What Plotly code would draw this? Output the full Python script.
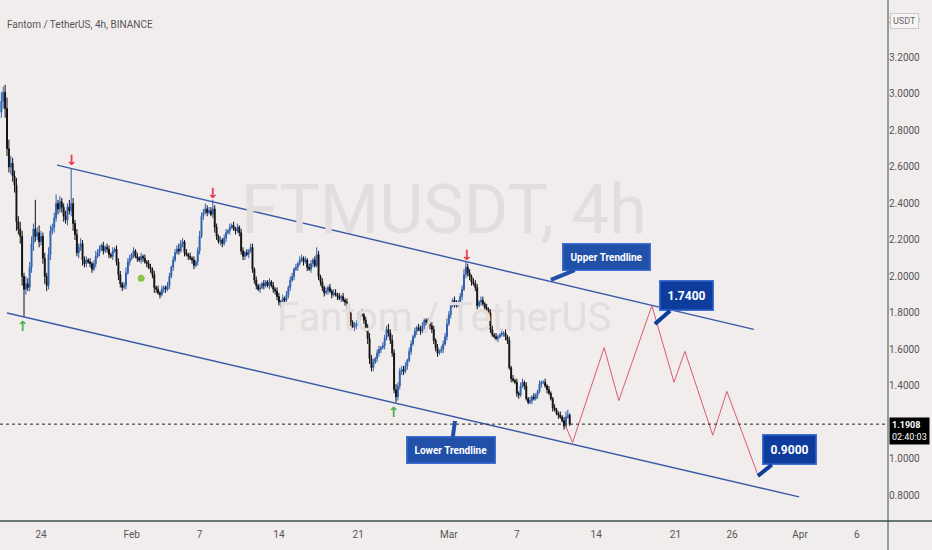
import pandas as pd
import plotly.graph_objects as go

# 4h closes, FTM/USDT, starting 2022-01-20 12:00
first_open = 2.90
closes = [
    2.96, 3.01, 2.92,
    2.70, 2.60, 2.62, 2.55, 2.50, 2.30,
    2.26, 2.22, 2.00, 1.93, 1.96, 1.94,
    2.05, 2.18, 2.26, 2.22, 2.24, 2.19,
    2.22, 2.10, 2.00, 1.95, 2.12, 2.25,
    2.27, 2.32, 2.40, 2.37, 2.41, 2.38,
    2.33, 2.31, 2.38, 2.36, 2.40, 2.29,
    2.23, 2.13, 2.16, 2.18, 2.09, 2.07,
    2.09, 2.08, 2.07, 2.04, 2.07, 2.11,
    2.13, 2.15, 2.17, 2.14, 2.16, 2.15,
    2.12, 2.11, 2.14, 2.15, 2.08, 2.01,
    1.96, 1.94, 1.95, 2.02, 2.08, 2.10,
    2.12, 2.14, 2.11, 2.10, 2.09, 2.11,
    2.10, 2.08, 2.07, 2.05, 2.04, 2.01,
    1.94, 1.93, 1.91, 1.90, 1.93, 1.94,
    1.93, 1.95, 2.00, 2.05, 2.09, 2.13,
    2.15, 2.14, 2.18, 2.19, 2.13, 2.12,
    2.11, 2.10, 2.09, 2.06, 2.08, 2.14,
    2.22, 2.33, 2.35, 2.37, 2.35, 2.36,
    2.34, 2.37, 2.27, 2.22, 2.19, 2.20,
    2.18, 2.21, 2.24, 2.25, 2.27, 2.28,
    2.26, 2.25, 2.27, 2.24, 2.14, 2.11,
    2.13, 2.12, 2.14, 2.16, 2.04, 1.98,
    1.95, 1.93, 1.94, 1.96, 1.95, 1.97,
    1.95, 1.97, 1.95, 1.93, 1.92, 1.89,
    1.86, 1.85, 1.88, 1.87, 1.90, 1.94,
    1.98, 2.00, 2.04, 2.05, 2.07, 2.09,
    2.10, 2.08, 2.09, 2.05, 2.04, 2.07,
    2.09, 2.06, 2.12, 2.00, 1.97, 1.94,
    1.91, 1.92, 1.94, 1.92, 1.90, 1.91,
    1.90, 1.89, 1.88, 1.89, 1.87, 1.86,
    1.84, 1.80, 1.75, 1.72, 1.73, 1.74,
    1.78, 1.80, 1.79, 1.76, 1.72, 1.66,
    1.55, 1.50, 1.53, 1.55, 1.58, 1.60,
    1.61, 1.62, 1.66, 1.71, 1.69, 1.65,
    1.58, 1.38, 1.34, 1.40, 1.48, 1.49,
    1.48, 1.51, 1.54, 1.59, 1.63, 1.67,
    1.70, 1.72, 1.71, 1.70, 1.73, 1.76,
    1.75, 1.74, 1.73, 1.71, 1.65, 1.61,
    1.58, 1.59, 1.60, 1.63, 1.67, 1.74,
    1.79, 1.84, 1.87, 1.85, 1.84, 1.86,
    1.89, 1.93, 2.01, 2.05, 2.02, 2.00,
    1.97, 1.96, 1.94, 1.84, 1.86, 1.87,
    1.85, 1.83, 1.82, 1.80, 1.71, 1.68,
    1.67, 1.66, 1.67, 1.68, 1.69, 1.69,
    1.67, 1.65, 1.50, 1.44, 1.43, 1.42,
    1.36, 1.35, 1.40, 1.42, 1.40, 1.33,
    1.31, 1.32, 1.34, 1.33, 1.35, 1.37,
    1.41, 1.42, 1.42, 1.40, 1.38, 1.36,
    1.33, 1.28, 1.27, 1.25, 1.24, 1.23,
    1.21, 1.18, 1.23, 1.24, 1.1908,
]
# wick lengths above / below the body, in cents
upper_wicks = [
    5, 3, 4,
    6, 5, 4, 3, 3, 4,
    3, 4, 3, 2, 4, 3,
    3, 4, 3, 16, 3, 4,
    3, 2, 3, 2, 4, 3,
    2, 3, 5, 2, 3, 2,
    2, 3, 2, 4, 19, 3,
    2, 3, 2, 3, 2, 2,
    2, 1, 2, 1, 2, 3,
    2, 2, 1, 2, 1, 2,
    2, 1, 2, 1, 2, 2,
    2, 1, 2, 3, 2, 2,
    1, 2, 1, 2, 1, 2,
    1, 2, 1, 2, 2, 1,
    2, 1, 2, 1, 2, 1,
    1, 2, 2, 1, 2, 2,
    2, 3, 2, 2, 1, 2,
    1, 2, 1, 2, 1, 2,
    3, 2, 2, 3, 2, 2,
    2, 5, 2, 2, 1, 2,
    1, 2, 2, 1, 2, 1,
    2, 1, 2, 1, 2, 2,
    1, 2, 1, 2, 2, 1,
    2, 1, 2, 1, 2, 1,
    1, 2, 1, 2, 1, 2,
    2, 1, 2, 1, 2, 1,
    2, 2, 1, 2, 1, 2,
    2, 1, 2, 1, 2, 2,
    1, 2, 4, 2, 1, 2,
    1, 2, 1, 2, 1, 2,
    2, 1, 2, 1, 2, 1,
    2, 1, 2, 1, 2, 2,
    2, 1, 2, 1, 2, 2,
    3, 2, 2, 1, 2, 2,
    1, 2, 2, 2, 3, 2,
    3, 2, 3, 2, 2, 2,
    2, 2, 1, 2, 2, 1,
    2, 1, 2, 2, 2, 1,
    1, 2, 1, 2, 2, 1,
    2, 1, 2, 2, 2, 3,
    2, 2, 1, 2, 2, 1,
    2, 2, 3, 3, 2, 2,
    1, 2, 2, 2, 1, 2,
    2, 1, 2, 1, 2, 2,
    1, 2, 1, 1, 2, 1,
    2, 1, 2, 1, 2, 1,
    2, 1, 2, 2, 1, 2,
    1, 2, 1, 2, 1, 1,
    2, 1, 1, 2, 1, 2,
    1, 1, 2, 1, 1, 2,
    1, 2, 3, 3, 1,
]
lower_wicks = [
    3, 4, 5,
    4, 3, 4, 3, 4, 5,
    3, 4, 5, 15, 3, 2,
    2, 3, 4, 3, 2, 3,
    2, 3, 4, 3, 2, 3,
    2, 3, 2, 3, 2, 3,
    3, 2, 3, 2, 3, 4,
    3, 2, 3, 2, 3, 2,
    2, 1, 2, 2, 1, 2,
    1, 2, 1, 2, 1, 2,
    2, 1, 2, 1, 2, 3,
    2, 2, 1, 2, 1, 2,
    1, 2, 1, 2, 1, 2,
    2, 1, 2, 1, 2, 2,
    3, 2, 1, 2, 1, 2,
    2, 1, 2, 1, 2, 1,
    1, 2, 1, 2, 2, 1,
    2, 1, 2, 2, 1, 2,
    2, 1, 2, 1, 2, 1,
    1, 2, 3, 2, 1, 2,
    2, 1, 2, 1, 2, 1,
    1, 2, 1, 2, 2, 2,
    2, 1, 2, 1, 2, 2,
    2, 1, 2, 1, 2, 1,
    1, 2, 1, 2, 2, 2,
    2, 2, 1, 2, 1, 2,
    2, 1, 2, 1, 2, 1,
    1, 2, 1, 2, 1, 2,
    2, 1, 1, 2, 2, 2,
    2, 1, 2, 1, 2, 1,
    1, 2, 1, 2, 1, 2,
    2, 2, 2, 1, 2, 2,
    1, 2, 1, 2, 2, 3,
    3, 2, 2, 1, 2, 2,
    2, 1, 2, 1, 2, 2,
    2, 2, 3, 2, 2, 2,
    2, 1, 2, 1, 2, 1,
    1, 2, 1, 2, 1, 2,
    2, 1, 2, 2, 2, 2,
    2, 1, 1, 2, 1, 2,
    1, 2, 1, 2, 1, 1,
    1, 2, 1, 2, 2, 2,
    2, 1, 2, 2, 1, 2,
    1, 2, 1, 2, 2, 1,
    1, 1, 2, 1, 1, 2,
    2, 2, 1, 2, 1, 1,
    2, 2, 1, 1, 2, 1,
    1, 1, 2, 1, 1, 2,
    1, 2, 1, 1, 2, 1,
    1, 2, 1, 1, 2, 1,
    1, 2, 1, 1, 1,
]

upper_line_dates = ["2022-01-25 10:00", "2022-03-27 22:00"]
upper_line_prices = [2.61, 1.71]
lower_line_dates = ["2022-01-21 00:00", "2022-03-31 22:00"]
lower_line_prices = [1.80, 0.792]

proj_dates = ["2022-03-11 06:00", "2022-03-11 22:00", "2022-03-14 17:00", "2022-03-16 00:00",
              "2022-03-18 22:00", "2022-03-20 21:00", "2022-03-21 20:00", "2022-03-24 07:00",
              "2022-03-25 13:00", "2022-03-28 07:00"]
proj_prices = [1.19, 1.09, 1.61, 1.32, 1.84, 1.42, 1.59, 1.13, 1.37, 0.91]

top_marks_dates = ["2022-01-26 17:00", "2022-02-08 04:00", "2022-03-02 14:00"]
top_marks_prices = [2.63, 2.45, 2.11]
bottom_marks_dates = ["2022-01-22 09:00", "2022-02-24 03:00"]
bottom_marks_prices = [1.72, 1.25]
dot_date = ["2022-02-01 20:00"]
dot_price = [1.99]

last_price = 1.1908
tick_prices = [0.8, 1.0, 1.4, 1.6, 1.8, 2.0, 2.2, 2.4, 2.6, 2.8, 3.0, 3.2, 3.4]
tick_dates = ["2022-01-24", "2022-02-01", "2022-02-07", "2022-02-14", "2022-02-21", "2022-03-01",
              "2022-03-07", "2022-03-14", "2022-03-21", "2022-03-26", "2022-04-01", "2022-04-06"]
tick_text = ["24", "Feb", "7", "14", "21", "Mar", "7", "14", "21", "26", "Apr", "6"]

dates = pd.date_range("2022-01-20 12:00", periods=len(closes), freq="4h")
opens = [first_open] + closes[:-1]
highs = [max(o, c) + w / 100 for o, c, w in zip(opens, closes, upper_wicks)]
lows = [min(o, c) - w / 100 for o, c, w in zip(opens, closes, lower_wicks)]

BG = "#f1eded"
BLUE = "#2f5fae"
AXIS = "#37524e"

fig = go.Figure()

fig.add_trace(go.Candlestick(
    x=dates, open=opens, high=highs, low=lows, close=closes,
    increasing=dict(line=dict(color=BLUE, width=1), fillcolor=BLUE),
    decreasing=dict(line=dict(color="#111111", width=1), fillcolor="#111111"),
    whiskerwidth=0, showlegend=False, hoverinfo="skip",
))

for d, p in [(upper_line_dates, upper_line_prices), (lower_line_dates, lower_line_prices)]:
    fig.add_trace(go.Scatter(x=d, y=p, mode="lines", line=dict(color="#3b5ba8", width=1.4),
                             showlegend=False, hoverinfo="skip"))

fig.add_trace(go.Scatter(x=proj_dates, y=proj_prices, mode="lines",
                         line=dict(color="#dc5a74", width=1), showlegend=False, hoverinfo="skip"))

fig.add_trace(go.Scatter(x=top_marks_dates, y=top_marks_prices, mode="text", text=["<b>↓</b>"] * 3,
                         textfont=dict(color="#e8364f", size=14, family="DejaVu Sans"),
                         showlegend=False, hoverinfo="skip"))
fig.add_trace(go.Scatter(x=bottom_marks_dates, y=bottom_marks_prices, mode="text", text=["<b>↑</b>"] * 2,
                         textfont=dict(color="#4caf50", size=14, family="DejaVu Sans"),
                         showlegend=False, hoverinfo="skip"))
fig.add_trace(go.Scatter(x=dot_date, y=dot_price, mode="markers",
                         marker=dict(color="#8bc34a", size=7), showlegend=False, hoverinfo="skip"))

# watermark + title
fig.add_annotation(text="FTMUSDT, 4h", x=0.5, y=0.597, xref="paper", yref="paper", showarrow=False,
                   font=dict(family="Roboto", size=68, color="#e2dede"))
fig.add_annotation(text="Fantom / TetherUS", x=0.5, y=0.39, xref="paper", yref="paper", showarrow=False,
                   font=dict(family="Roboto", size=40, color="#e2dede"))
fig.add_annotation(text="Fantom / TetherUS, 4h, BINANCE", x=0.006, y=0.968, xref="paper", yref="paper",
                   xanchor="left", showarrow=False,
                   font=dict(family="Roboto", size=10, color="#555555"))

# callouts
callouts = [
    ("Upper Trendline", "2022-03-10 00:15", 1.981, 56, -23, "#2150a8", 10),
    ("Lower Trendline", "2022-03-01 13:00", 1.208, -4, 29, "#2150a8", 10),
    ("1.7400", "2022-03-19 04:30", 1.74, 32, -28, "#0d3c9c", 12),
    ("0.9000", "2022-03-28 06:45", 0.907, 32, -26, "#0d3c9c", 12),
]
for txt, x, y, ax, ay, col, sz in callouts:
    fig.add_annotation(text="<b>" + txt + "</b>", x=x, y=y, ax=ax, ay=ay, showarrow=True,
                       arrowhead=0, arrowwidth=4, arrowcolor=col, standoff=0,
                       bgcolor=col, bordercolor="#3d6fd6", borderwidth=1.5, borderpad=7,
                       font=dict(family="Roboto", size=sz, color="white"))

# last price line and label
fig.add_shape(type="line", xref="paper", x0=0, x1=1, y0=last_price, y1=last_price,
              line=dict(color="#222222", width=1, dash="dot"))
fig.add_annotation(text="<b>1.1908</b><br>02:40:03", x=1, y=last_price, xref="paper", yref="y",
                   xanchor="left", yanchor="middle", yshift=-7, xshift=1, showarrow=False, align="left",
                   bgcolor="#000000", borderpad=2, font=dict(family="Roboto", size=9, color="white"))
fig.add_annotation(text="USDT", x=1.035, y=3.4, xref="paper", yref="y", showarrow=False,
                   bgcolor="#f7f4f4", bordercolor="#cccccc", borderwidth=1, borderpad=2,
                   font=dict(family="Roboto", size=9, color="#666666"))

# pane borders
fig.add_shape(type="line", xref="paper", yref="paper", x0=1, x1=1, y0=-0.06, y1=1,
              line=dict(color=AXIS, width=1))
fig.add_shape(type="line", xref="paper", yref="paper", x0=0, x1=1.06, y0=0, y1=0,
              line=dict(color=AXIS, width=1.5))

fig.update_layout(
    width=932, height=550,
    margin=dict(l=0, r=44, t=0, b=29),
    paper_bgcolor=BG, plot_bgcolor=BG,
    xaxis=dict(range=["2022-01-20 09:09", "2022-04-08 18:15"], rangeslider=dict(visible=False),
               showgrid=False, zeroline=False, tickvals=tick_dates, ticktext=tick_text,
               ticks="", ticklabelstandoff=6,
               tickfont=dict(family="Roboto", size=10, color="#555555")),
    yaxis=dict(range=[0.66, 3.515], side="right", showgrid=False, zeroline=False,
               tickvals=tick_prices, tickformat=".4f", ticks="",
               tickfont=dict(family="Roboto", size=10, color="#555555")),
)

fig.write_html("out.html", config={"displayModeBar": False},
               post_script="document.body.style.margin='0';"
                           "document.body.style.background='#f1eded';")
